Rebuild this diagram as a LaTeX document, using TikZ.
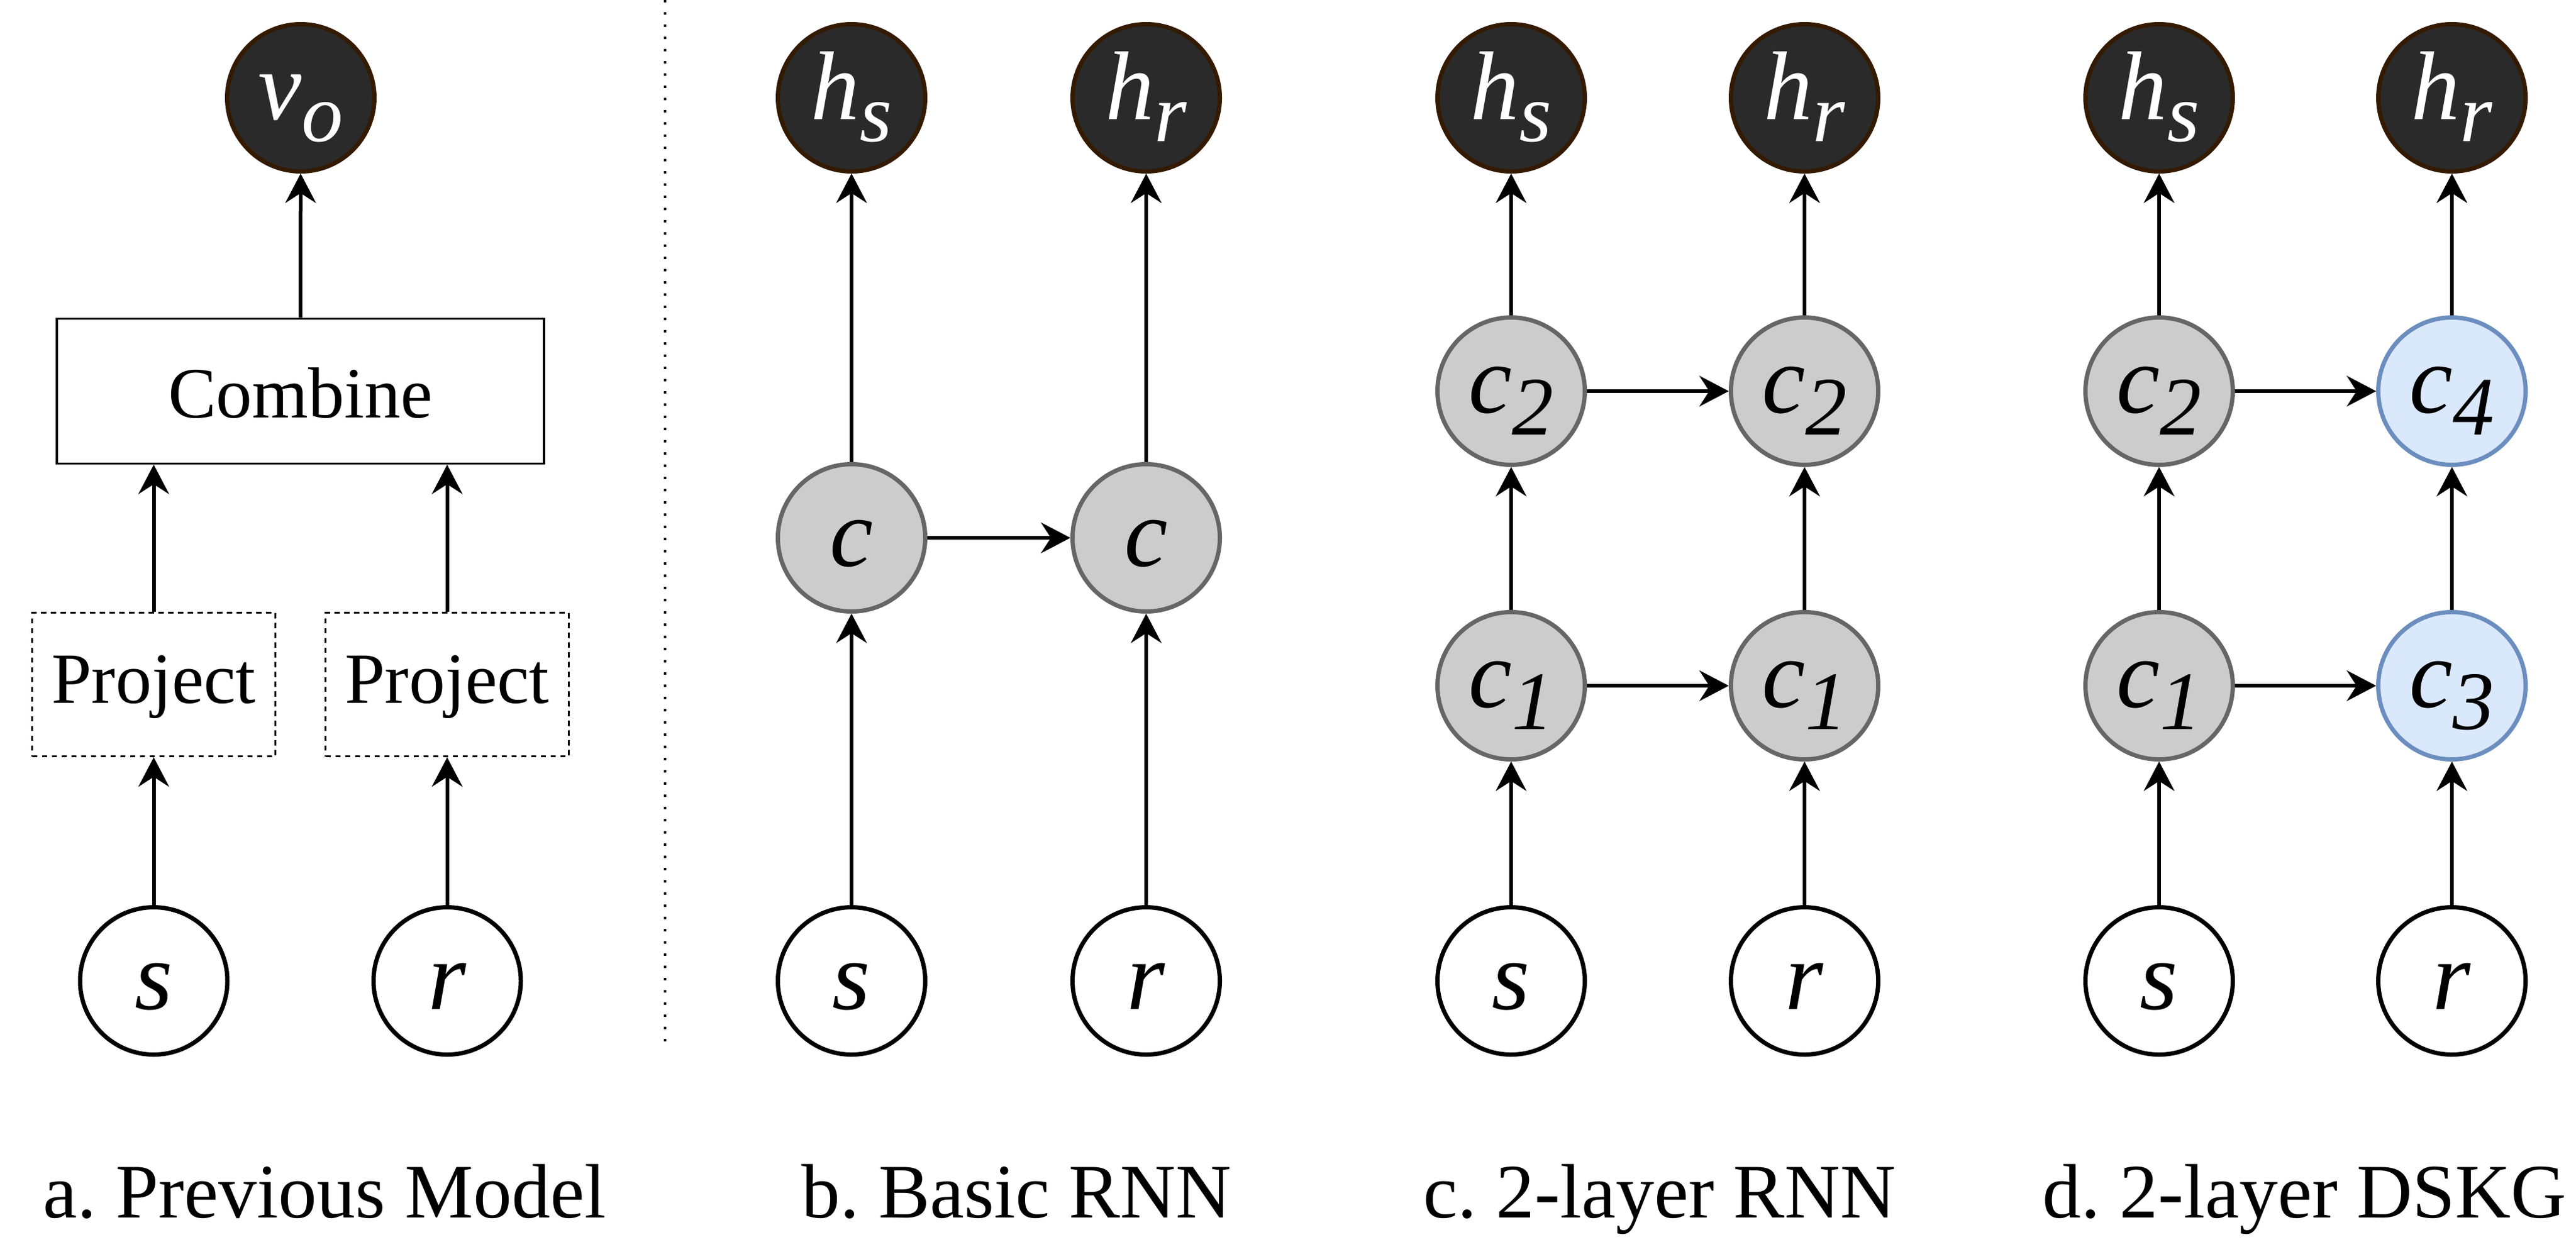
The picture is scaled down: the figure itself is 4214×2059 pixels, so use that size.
\documentclass[tikz,border=0pt]{standalone}
\usepackage{fontspec}
\setmainfont{Liberation Serif}
\usetikzlibrary{arrows.meta}
\definecolor{hfill}{HTML}{2A2A2A}
\definecolor{hdraw}{HTML}{331A00}
\definecolor{gfill}{HTML}{CCCCCC}
\definecolor{gdraw}{HTML}{666666}
\definecolor{bfill}{HTML}{DAE8FC}
\definecolor{bdraw}{HTML}{6C8EBF}
\newcommand{\mlab}[2]{#1\raisebox{-9pt}{\fontsize{34pt}{40pt}\selectfont #2}}
\frenchspacing
\begin{document}
\begin{tikzpicture}[x=0.25pt,y=-0.25pt,
  nd/.style={circle,inner sep=0pt,minimum size=60.25pt,line width=1.75pt,
    font=\fontsize{40pt}{48pt}\selectfont\itshape},
  subl/.style={text height=20pt,text depth=2.5pt},
  single/.style={text height=25pt,text depth=2pt},
  outnode/.style={nd,subl,fill=hfill,draw=hdraw,text=white},
  cellg/.style={nd,subl,fill=gfill,draw=gdraw},
  cellgs/.style={nd,single,fill=gfill,draw=gdraw},
  cellb/.style={nd,subl,fill=bfill,draw=bdraw},
  innode/.style={nd,single,fill=white,draw=black},
  combinebox/.style={draw=black,line width=0.9pt,minimum width=199.25pt,minimum height=59.25pt,
    inner sep=0pt,text height=24pt,text depth=2.2pt,font=\fontsize{29.5pt}{34pt}\selectfont},
  projbox/.style={draw=black,line width=0.8pt,dash pattern=on 2.2pt off 1.8pt,minimum width=99.5pt,
    minimum height=58.75pt,inner sep=0pt,text height=18pt,text depth=3pt,font=\fontsize{29.5pt}{34pt}\selectfont},
  arr/.style={-{Stealth[length=12pt,width=12.5pt,inset=4pt]},line width=1.5pt},
  dotline/.style={line width=1pt,dash pattern=on 1pt off 4pt},
  lbl/.style={anchor=base,inner sep=0pt,font=\fontsize{31.5pt}{36pt}\selectfont}
]
\useasboundingbox (0,0) rectangle (4214,2059);

% ---------- panel a ----------
\node[outnode] (vo) at (492,160) {\mlab{v}{o}};
\node[combinebox] (comb) at (491.5,640) {Combine};
\node[projbox] (p1) at (251.5,1120) {Project};
\node[projbox] (p2) at (731.5,1120) {Project};
\node[innode] (as) at (251.5,1605) {s};
\node[innode] (ar) at (731.5,1605) {r};
\draw[arr] (as) -- (p1);
\draw[arr] (ar) -- (p2);
\draw[arr] (p1.north) -- (p1.north |- comb.south);
\draw[arr] (p2.north) -- (p2.north |- comb.south);
\draw[arr] (comb.north) -- (vo);

% separator
\coordinate (dt) at (1088,0);
\coordinate (db) at (1088,1704);
\draw[dotline] (dt) -- (db);

% ---------- panel b ----------
\node[outnode] (bhs) at (1393,160) {\mlab{h}{s}};
\node[outnode] (bhr) at (1875,160) {\mlab{h}{r}};
\node[cellgs] (bc1) at (1393,880) {c};
\node[cellgs] (bc2) at (1875,880) {c};
\node[innode] (bs) at (1393,1605) {s};
\node[innode] (br) at (1875,1605) {r};
\draw[arr] (bs) -- (bc1);
\draw[arr] (br) -- (bc2);
\draw[arr] (bc1) -- (bhs);
\draw[arr] (bc2) -- (bhr);
\draw[arr] (bc1) -- (bc2);

% ---------- panel c ----------
\node[outnode] (chs) at (2472,160) {\mlab{h}{s}};
\node[outnode] (chr) at (2952,160) {\mlab{h}{r}};
\node[cellg] (cc2a) at (2472,640) {\mlab{c}{2}};
\node[cellg] (cc2b) at (2952,640) {\mlab{c}{2}};
\node[cellg] (cc1a) at (2472,1122) {\mlab{c}{1}};
\node[cellg] (cc1b) at (2952,1122) {\mlab{c}{1}};
\node[innode] (cs) at (2472,1605) {s};
\node[innode] (cr) at (2952,1605) {r};
\draw[arr] (cs) -- (cc1a);
\draw[arr] (cr) -- (cc1b);
\draw[arr] (cc1a) -- (cc2a);
\draw[arr] (cc1b) -- (cc2b);
\draw[arr] (cc2a) -- (chs);
\draw[arr] (cc2b) -- (chr);
\draw[arr] (cc1a) -- (cc1b);
\draw[arr] (cc2a) -- (cc2b);

% ---------- panel d ----------
\node[outnode] (dhs) at (3532,160) {\mlab{h}{s}};
\node[outnode] (dhr) at (4011,160) {\mlab{h}{r}};
\node[cellg] (dc2) at (3532,640) {\mlab{c}{2}};
\node[cellb] (dc4) at (4011,640) {\mlab{c}{4}};
\node[cellg] (dc1) at (3532,1122) {\mlab{c}{1}};
\node[cellb] (dc3) at (4011,1122) {\mlab{c}{3}};
\node[innode] (ds) at (3532,1605) {s};
\node[innode] (dr) at (4011,1605) {r};
\draw[arr] (ds) -- (dc1);
\draw[arr] (dr) -- (dc3);
\draw[arr] (dc1) -- (dc2);
\draw[arr] (dc3) -- (dc4);
\draw[arr] (dc2) -- (dhs);
\draw[arr] (dc4) -- (dhr);
\draw[arr] (dc1) -- (dc3);
\draw[arr] (dc2) -- (dc4);

% ---------- captions ----------
\node[lbl] (la) at (531,1992) {a. Previous Model};
\node[lbl] (lb) at (1663,1992) {b. Basic RNN};
\node[lbl] (lc) at (2715,1992) {c. 2-layer RNN};
\node[lbl] (ld) at (3770,1992) {d. 2-layer DSKG};
\end{tikzpicture}
\end{document}
